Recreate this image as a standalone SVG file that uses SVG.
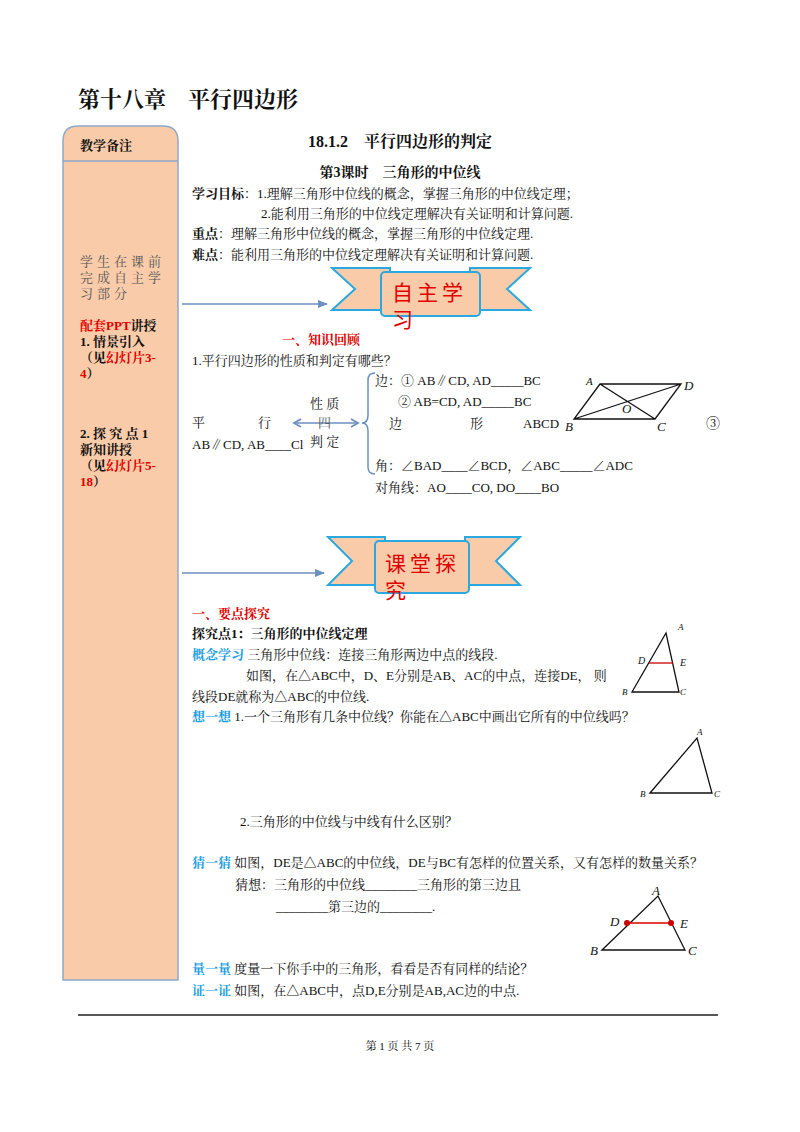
<svg xmlns="http://www.w3.org/2000/svg" width="800" height="1132" viewBox="0 0 800 1132">
<style>
text{font-family:"Liberation Serif","Noto Serif CJK SC","Noto Sans CJK SC",serif;font-size:13px;fill:#111}
.b{font-weight:bold}
.r{fill:#e00000}
.c{fill:#1ea0e0;font-weight:bold}
.ln{stroke:#111;stroke-width:1.3;fill:none}
.con{stroke:#6d8fc0;stroke-width:1.5;fill:none}
.rib{fill:#f9cba9;stroke:#2aa8e0;stroke-width:2}
.bt{font-size:21px;font-family:"Noto Sans CJK SC",sans-serif;fill:#e00000}
</style>
<defs>
<marker id="ah" markerWidth="10" markerHeight="10" refX="9" refY="5" orient="auto" markerUnits="userSpaceOnUse"><path d="M0,1 L10,5 L0,9 Z" fill="#6d8fc0"/></marker>
<marker id="oa" markerWidth="10" markerHeight="10" refX="8" refY="5" orient="auto" markerUnits="userSpaceOnUse"><path d="M1,1 L8,5 L1,9" fill="none" stroke="#6d8fc0" stroke-width="1.8"/></marker>
</defs>
<rect width="800" height="1132" fill="#fff"/>
<text x="78" y="107" class="b" style="font-size:22px">第十八章　平行四边形</text>

<g id="sidebar">
<path d="M78,126 H163 Q178,126 178,141 V980 H63 V141 Q63,126 78,126 Z" fill="#f9cba9" stroke="#8ea9c8" stroke-width="1.5"/>
<line x1="63" y1="161" x2="178" y2="161" stroke="#8ea9c8" stroke-width="1.5"/>
<text x="80" y="150" class="b">教学备注</text>
<text x="80" y="266" style="fill:#555;letter-spacing:4px">学生在课前</text>
<text x="80" y="282" style="fill:#555;letter-spacing:4px">完成自主学</text>
<text x="80" y="298" style="fill:#555;letter-spacing:4px">习部分</text>
<text x="80" y="330" class="b"><tspan class="r">配套PPT</tspan>讲授</text>
<text x="80" y="346" class="b">1. 情景引入</text>
<text x="80" y="362" class="b">（见<tspan class="r">幻灯片3-</tspan></text>
<text x="80" y="378" class="b"><tspan class="r">4</tspan>）</text>
<text x="80" y="438" class="b">2. 探 究 点 1</text>
<text x="80" y="454" class="b">新知讲授</text>
<text x="80" y="470" class="b">（见<tspan class="r">幻灯片5-</tspan></text>
<text x="80" y="486" class="b"><tspan class="r">18</tspan>）</text>
</g>

<g id="connectors">
<line x1="182" y1="304" x2="327" y2="304" class="con" marker-end="url(#ah)"/>
<line x1="182" y1="573" x2="324" y2="573" class="con" marker-end="url(#ah)"/>
<line x1="326" y1="423" x2="294" y2="423" class="con" marker-end="url(#oa)"/>
<line x1="326" y1="423" x2="358" y2="423" class="con" marker-end="url(#oa)"/>
<path d="M375,373 Q368,373 368,380 V415 Q368,423 362,423 Q368,423 368,431 V467 Q368,474 375,474" class="con" stroke-width="2"/>
</g>

<text x="400" y="147" class="b" text-anchor="middle" style="font-size:16px">18.1.2　平行四边形的判定</text>
<text x="400" y="177" class="b" text-anchor="middle" style="font-size:14px">第3课时　三角形的中位线</text>
<text x="192" y="198"><tspan class="b">学习目标</tspan>：1.理解三角形中位线的概念，掌握三角形的中位线定理；</text>
<text x="261" y="218">2.能利用三角形的中位线定理解决有关证明和计算问题.</text>
<text x="192" y="238"><tspan class="b">重点</tspan>：理解三角形中位线的概念，掌握三角形的中位线定理.</text>
<text x="192" y="259"><tspan class="b">难点</tspan>：能利用三角形的中位线定理解决有关证明和计算问题.</text>

<g id="banner1">
<path d="M332,268 H390 V310 H332 L355,289 Z M530,268 H470 V310 H530 L507,289 Z" class="rib"/>
<rect x="381" y="272" width="99" height="44" rx="4" class="rib"/>
<text x="392" y="300" class="bt" style="letter-spacing:4px">自主学</text>
<text x="392" y="327" class="bt">习</text>
</g>

<text x="282" y="344" class="b r">一、知识回顾</text>
<text x="192" y="365">1.平行四边形的性质和判定有哪些？</text>
<text x="310" y="408">性 质</text>
<text x="318" y="427" style="fill:#555">四</text>
<text x="310" y="446">判 定</text>
<text x="192" y="427">平</text>
<text x="258" y="427">行</text>
<text x="192" y="449">AB∥CD, AB____Cl</text>
<text x="375" y="385">边：① AB∥CD, AD_____BC</text>
<text x="398" y="406">② AB=CD, AD_____BC</text>
<text x="389" y="428">边</text>
<text x="470" y="428">形</text>
<text x="523" y="428">ABCD</text>
<text x="706" y="428" style="font-size:14px">③</text>
<text x="375" y="470">角：∠BAD____∠BCD，∠ABC_____∠ADC</text>
<text x="375" y="492">对角线：AO____CO, DO____BO</text>

<g id="parallelogram">
<path d="M600,384 H681 L655,419 H574 Z M600,384 L655,419 M574,419 L681,384" class="ln"/>
<text x="586" y="385" style="font-style:italic;font-size:11px">A</text>
<text x="684" y="390" style="font-style:italic">D</text>
<text x="622" y="413" style="font-style:italic">O</text>
<text x="565" y="431" style="font-style:italic">B</text>
<text x="657" y="431" style="font-style:italic">C</text>
</g>

<g id="banner2">
<path d="M328,537 H385 V585 H328 L352,561 Z M520,537 H465 V585 H520 L496,561 Z" class="rib"/>
<rect x="375" y="541" width="94" height="52" rx="4" class="rib"/>
<text x="385" y="571" class="bt" style="letter-spacing:4px">课堂探</text>
<text x="385" y="598" class="bt">究</text>
</g>

<text x="192" y="618" class="b r">一、要点探究</text>
<text x="192" y="638" class="b">探究点1：三角形的中位线定理</text>
<text x="192" y="659"><tspan class="c">概念学习</tspan> 三角形中位线：连接三角形两边中点的线段.</text>
<text x="246" y="680">如图，在△ABC中，D、E分别是AB、AC的中点，连接DE，  则</text>
<text x="192" y="701">线段DE就称为△ABC的中位线.</text>
<g id="tri1">
<path d="M632,692 L666,633 L679,692 Z" class="ln"/>
<line x1="649" y1="663" x2="673" y2="663" stroke="#c00" stroke-width="1.3"/>
<text x="678" y="630" style="font-style:italic;font-size:9px">A</text>
<text x="638" y="664" style="font-style:italic;font-size:10px">D</text>
<text x="680" y="666" style="font-style:italic;font-size:10px">E</text>
<text x="622" y="695" style="font-style:italic;font-size:9px">B</text>
<text x="680" y="695" style="font-style:italic;font-size:9px">C</text>
</g>
<text x="192" y="721"><tspan class="c">想一想</tspan>  1.一个三角形有几条中位线？你能在△ABC中画出它所有的中位线吗？</text>
<g id="tri2">
<path d="M650,793 L697,738 L712,793 Z" class="ln"/>
<text x="697" y="735" style="font-style:italic;font-size:9px">A</text>
<text x="640" y="797" style="font-style:italic;font-size:9px">B</text>
<text x="714" y="797" style="font-style:italic;font-size:9px">C</text>
</g>
<text x="240" y="826">2.三角形的中位线与中线有什么区别？</text>

<text x="192" y="867"><tspan class="c">猜一猜</tspan> 如图，DE是△ABC的中位线，DE与BC有怎样的位置关系，又有怎样的数量关系？</text>
<text x="235" y="889">猜想：三角形的中位线________三角形的第三边且</text>
<text x="276" y="911">________第三边的________.</text>
<g id="tri3">
<path d="M602,950 L658,896 L685,950 Z" class="ln"/>
<line x1="627" y1="923" x2="671" y2="923" stroke="#d00" stroke-width="1.3"/>
<circle cx="627" cy="923" r="3" fill="#c00"/>
<circle cx="671" cy="923" r="3" fill="#c00"/>
<text x="652" y="895" style="font-style:italic;font-size:13px">A</text>
<text x="610" y="926" style="font-style:italic;font-size:13px">D</text>
<text x="680" y="928" style="font-style:italic;font-size:13px">E</text>
<text x="590" y="955" style="font-style:italic;font-size:13px">B</text>
<text x="688" y="955" style="font-style:italic;font-size:13px">C</text>
</g>
<text x="192" y="973"><tspan class="c">量一量</tspan> 度量一下你手中的三角形，看看是否有同样的结论？</text>
<text x="192" y="995"><tspan class="c">证一证</tspan> 如图，在△ABC中，点D,E分别是AB,AC边的中点.</text>

<line x1="78" y1="1015" x2="718" y2="1015" stroke="#222" stroke-width="1.5"/>
<text x="400" y="1050" text-anchor="middle" style="font-size:11px">第 1 页 共 7 页</text>
</svg>
